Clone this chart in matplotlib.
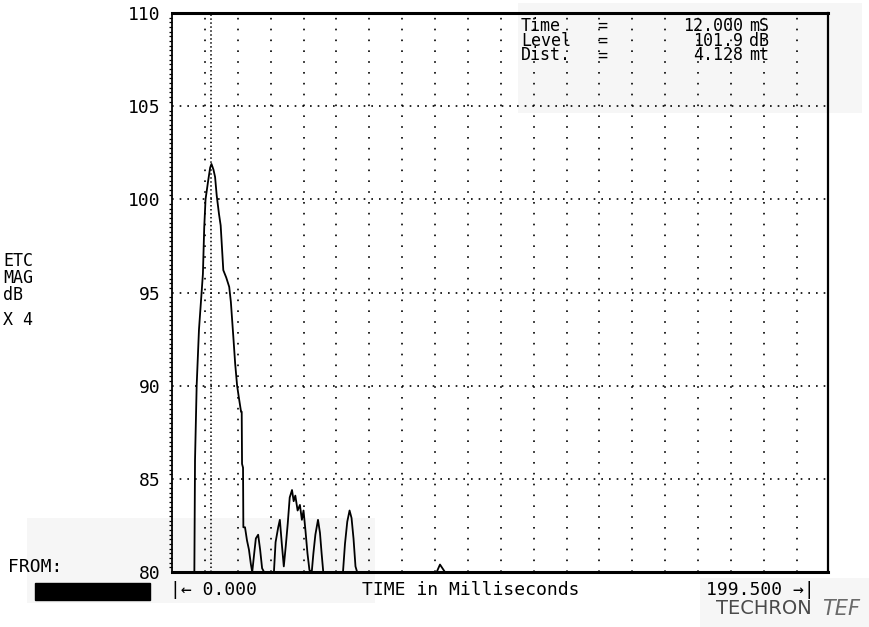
import numpy as np
import matplotlib
matplotlib.use("Agg")
import matplotlib.pyplot as plt
from matplotlib.patches import Rectangle

# ETC trace: time in ms, level in dB
time_ms = [0.0, 6.8, 7.0, 7.5, 8.2, 9.0, 9.4, 9.8, 10.2, 11.0, 11.6, 12.0,
           12.6, 13.1, 13.6, 14.3, 14.8, 15.2, 15.6, 16.5, 17.4, 17.9, 18.3,
           18.7, 19.2, 19.8, 20.3, 21.0, 21.2, 21.3, 21.6, 21.7,
           22.2, 22.8, 23.4, 24.0, 24.4, 25.0, 25.5, 26.2, 26.8, 27.4, 28.0,
           31.0, 31.5, 32.3, 32.8, 33.4, 34.0, 34.6, 35.2, 35.8, 36.5, 37.0,
           37.5, 38.2, 38.9, 39.5, 40.0, 40.6, 41.2, 41.8, 42.5, 43.0, 43.6,
           44.4, 45.0, 45.5, 46.0, 52.0, 52.6, 53.3, 54.0, 54.6, 55.2, 55.8,
           56.3, 80.5, 81.5, 83.0, 199.5]
level_db = [80.0, 80.0, 86.0, 90.0, 93.0, 95.0, 96.0, 98.5, 100.0, 101.0, 101.7, 101.9,
            101.6, 101.2, 100.2, 99.2, 98.6, 97.4, 96.2, 95.8, 95.3, 94.5, 93.5,
            92.5, 91.2, 90.0, 89.4, 88.6, 88.6, 85.8, 85.6, 82.4,
            82.4, 81.7, 81.2, 80.4, 80.0, 81.0, 81.8, 82.0, 81.2, 80.2, 80.0,
            80.0, 81.6, 82.4, 82.8, 81.5, 80.3, 81.4, 82.6, 84.0, 84.4, 83.8,
            84.1, 83.3, 83.6, 82.8, 83.3, 82.2, 81.0, 80.1, 80.0, 81.0, 82.0,
            82.8, 82.1, 81.0, 80.0, 80.0, 81.5, 82.7, 83.3, 82.9, 81.8, 80.3,
            80.0, 80.0, 80.4, 80.0, 80.0]

y_ticks = [80, 85, 90, 95, 100, 105, 110]
x_grid = list(range(10, 200, 10))
cursor_ms = 12.0
t_start, t_end = 0.0, 199.5

readout_names = ["Time", "Level", "Dist."]
readout_values = ["12.000", "101.9", "4.128"]
readout_units = ["mS", "dB", "mt"]
side_labels = ["ETC", "MAG", "dB"]

W, H = 869, 627
MONO = "DejaVu Sans Mono"


def fx(x):
    return x / W


def fy(y):
    return 1 - y / H


fig = plt.figure(figsize=(W / 100, H / 100), dpi=100)
fig.patch.set_facecolor("white")

# faint grey patches left by the scan (behind everything)
for x0, y0, x1, y1 in [(518, 3, 862, 113), (27, 518, 375, 603), (700, 578, 869, 627)]:
    fig.patches.append(Rectangle((fx(x0), fy(y1)), fx(x1 - x0), (y1 - y0) / H,
                                 transform=fig.transFigure, color="#f6f6f6",
                                 zorder=-5, lw=0))

ax = fig.add_axes([fx(172), fy(572), fx(656), 559 / H])
ax.set_zorder(2)
ax.patch.set_alpha(0)
ax.set_xlim(t_start, t_end)
ax.set_ylim(80, 110)

# dotted graticule
for y in y_ticks[1:-1]:
    ax.axhline(y, color="black", lw=1.2, ls=(0, (1, 3.6)), zorder=1)
for x in x_grid:
    ax.axvline(x, color="black", lw=1.2, ls=(0, (1, 5.5)), zorder=1)
ax.axvline(cursor_ms, color="black", lw=1.1, ls=(0, (1, 1.6)), zorder=1)

ax.plot(time_ms, level_db, color="black", lw=1.3, zorder=3, clip_on=False)

for side, lw in [("top", 2.2), ("bottom", 2.2), ("left", 1.3), ("right", 1.6)]:
    ax.spines[side].set_linewidth(lw)
    ax.spines[side].set_zorder(4)

ax.set_xticks([])
ax.set_yticks(y_ticks)
ax.set_yticklabels([str(v) for v in y_ticks], fontfamily=MONO, fontsize=13)
ax.set_yticks(np.arange(80, 110.01, 0.25), minor=True)
ax.tick_params(axis="y", which="major", length=0, pad=8)
ax.tick_params(axis="y", which="minor", length=2.5, width=0.9, direction="out")

# cursor readout, one text block per column
kw = dict(fontfamily=MONO, fontsize=12, va="top", zorder=6, linespacing=0.76)
y_top = fy(17)
fig.text(fx(521), y_top, "\n".join(readout_names), ha="left", **kw)
fig.text(fx(602), y_top, "\n".join("=" for _ in readout_names), ha="center", **kw)
fig.text(fx(743), y_top, "\n".join(readout_values), ha="right", multialignment="right", **kw)
fig.text(fx(749), y_top, "\n".join(readout_units), ha="left", **kw)

# left side labels
fig.text(fx(3), fy(278), "\n".join(side_labels), fontfamily=MONO, fontsize=12,
         va="center", ha="left", linespacing=0.95)
fig.text(fx(3), fy(320), "X 4", fontfamily=MONO, fontsize=12, va="center", ha="left")
fig.text(fx(8), fy(567), "FROM:", fontfamily=MONO, fontsize=13, va="center", ha="left")
fig.patches.append(Rectangle((fx(35), fy(600)), fx(115), 17 / H,
                             transform=fig.transFigure, color="black", zorder=3))

# bottom time labels
fig.text(fx(170), fy(590), "|\u2190 0.000", fontfamily=MONO, fontsize=13, va="center", ha="left")
fig.text(fx(362), fy(590), "TIME in Milliseconds", fontfamily=MONO, fontsize=13,
         va="center", ha="left")
fig.text(fx(706), fy(590), "199.500 \u2192|", fontfamily=MONO, fontsize=13,
         va="center", ha="left")

# printer logo, cut by the page edge
fig.text(fx(716), fy(609), "TECHRON", fontfamily="DejaVu Sans", fontsize=14,
         color="#4a4a4a", va="center", ha="left")
fig.text(fx(822), fy(609), "TEF", fontfamily="DejaVu Sans", fontsize=15,
         color="#6a6a6a", va="center", ha="left", fontstyle="italic")

fig.savefig("out.png", dpi=100)
